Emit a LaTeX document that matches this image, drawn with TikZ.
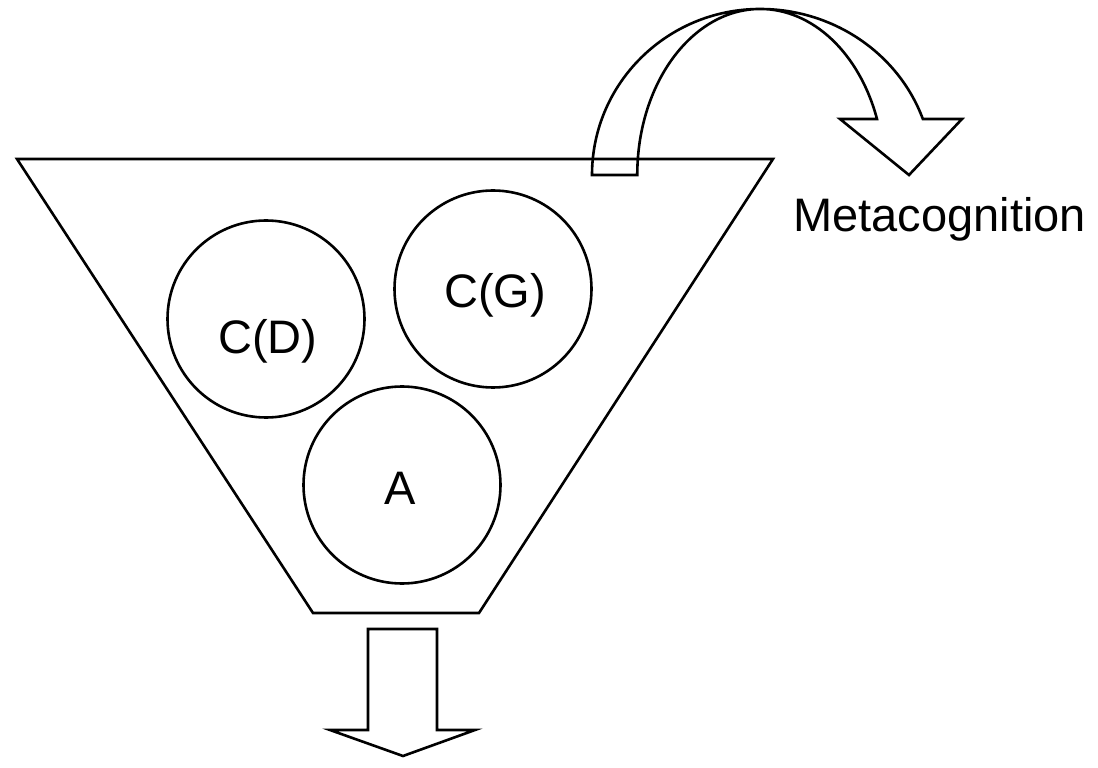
\documentclass[tikz,border=0pt]{standalone}
\usepackage{fontspec}
\setmainfont{Liberation Sans}
\begin{document}
\begin{tikzpicture}[x=0.5pt,y=0.5pt,
  outline/.style={draw=black,line width=1.3pt,line join=miter},
  ball/.style={circle,draw=black,line width=1.3pt,minimum size=98.5pt,inner sep=0pt},
  txt/.style={font=\fontsize{23.5}{28}\selectfont,inner sep=0pt,anchor=base}]
\useasboundingbox (0,0) rectangle (1098,767);
% funnel
\draw[outline] (17,608) -- (773,608) -- (479,154) -- (313,154) -- cycle;
% circles
\node[ball] (cd) at (266,448) {};
\node[ball] (cg) at (493,478) {};
\node[ball] (ca) at (402,282) {};
\node[txt] (cdt) at (268,413) {C(D)};
\node[txt] (cgt) at (495,459) {C(G)};
\node[txt] (cat) at (400,263) {A};
% label
\node[txt,anchor=base west] (meta) at (793,535) {Metacognition};
% bottom block arrow
\draw[outline] (368,138) -- (437,138) -- (437,37) -- (475,37) -- (403,11)
  -- (330,37) -- (368,37) -- cycle;
% curved arrow
\draw[outline] (592,592) arc[start angle=180,end angle=90,x radius=84pt,y radius=83pt]
  arc[start angle=90,end angle=19.7,x radius=86.5pt,y radius=83pt]
  -- (962,648) -- (909,592) -- (840,648) -- (877,648)
  arc[start angle=19.7,end angle=90,x radius=62pt,y radius=83pt]
  arc[start angle=90,end angle=180,x radius=61.5pt,y radius=83pt]
  -- cycle;
\end{tikzpicture}
\end{document}
